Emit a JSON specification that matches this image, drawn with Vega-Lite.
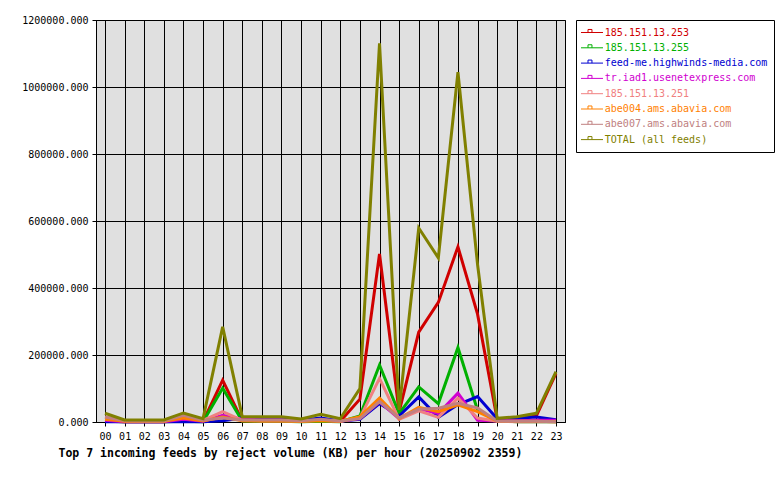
{
  "$schema": "https://vega.github.io/schema/vega-lite/v6.json",
  "width": 469,
  "height": 402,
  "autosize": {"type": "none"},
  "padding": {"left": 96, "top": 20, "right": 215, "bottom": 58},
  "background": "white",
  "config": {
    "view": {"fill": "#e0e0e0", "stroke": "black", "strokeWidth": 1},
    "font": "DejaVu Sans Mono"
  },
  "data": {
    "values": [
      {"h":"00","s":"185.151.13.253","v":3000},{"h":"01","s":"185.151.13.253","v":1000},{"h":"02","s":"185.151.13.253","v":1000},{"h":"03","s":"185.151.13.253","v":1000},{"h":"04","s":"185.151.13.253","v":5000},{"h":"05","s":"185.151.13.253","v":2000},{"h":"06","s":"185.151.13.253","v":125000},{"h":"07","s":"185.151.13.253","v":3000},{"h":"08","s":"185.151.13.253","v":2000},{"h":"09","s":"185.151.13.253","v":2000},{"h":"10","s":"185.151.13.253","v":2000},{"h":"11","s":"185.151.13.253","v":3000},{"h":"12","s":"185.151.13.253","v":2000},{"h":"13","s":"185.151.13.253","v":68000},{"h":"14","s":"185.151.13.253","v":502000},{"h":"15","s":"185.151.13.253","v":30000},{"h":"16","s":"185.151.13.253","v":268000},{"h":"17","s":"185.151.13.253","v":357000},{"h":"18","s":"185.151.13.253","v":523000},{"h":"19","s":"185.151.13.253","v":322000},{"h":"20","s":"185.151.13.253","v":8000},{"h":"21","s":"185.151.13.253","v":10000},{"h":"22","s":"185.151.13.253","v":18000},{"h":"23","s":"185.151.13.253","v":145000},
      {"h":"00","s":"185.151.13.255","v":2000},{"h":"01","s":"185.151.13.255","v":1000},{"h":"02","s":"185.151.13.255","v":1000},{"h":"03","s":"185.151.13.255","v":1000},{"h":"04","s":"185.151.13.255","v":2000},{"h":"05","s":"185.151.13.255","v":1000},{"h":"06","s":"185.151.13.255","v":101000},{"h":"07","s":"185.151.13.255","v":3000},{"h":"08","s":"185.151.13.255","v":2000},{"h":"09","s":"185.151.13.255","v":2000},{"h":"10","s":"185.151.13.255","v":1000},{"h":"11","s":"185.151.13.255","v":2000},{"h":"12","s":"185.151.13.255","v":1000},{"h":"13","s":"185.151.13.255","v":18000},{"h":"14","s":"185.151.13.255","v":170000},{"h":"15","s":"185.151.13.255","v":25000},{"h":"16","s":"185.151.13.255","v":105000},{"h":"17","s":"185.151.13.255","v":55000},{"h":"18","s":"185.151.13.255","v":222000},{"h":"19","s":"185.151.13.255","v":35000},{"h":"20","s":"185.151.13.255","v":3000},{"h":"21","s":"185.151.13.255","v":1000},{"h":"22","s":"185.151.13.255","v":1000},{"h":"23","s":"185.151.13.255","v":1000},
      {"h":"00","s":"feed-me.highwinds-media.com","v":1000},{"h":"01","s":"feed-me.highwinds-media.com","v":500},{"h":"02","s":"feed-me.highwinds-media.com","v":500},{"h":"03","s":"feed-me.highwinds-media.com","v":500},{"h":"04","s":"feed-me.highwinds-media.com","v":1000},{"h":"05","s":"feed-me.highwinds-media.com","v":500},{"h":"06","s":"feed-me.highwinds-media.com","v":4000},{"h":"07","s":"feed-me.highwinds-media.com","v":12000},{"h":"08","s":"feed-me.highwinds-media.com","v":8000},{"h":"09","s":"feed-me.highwinds-media.com","v":8000},{"h":"10","s":"feed-me.highwinds-media.com","v":5000},{"h":"11","s":"feed-me.highwinds-media.com","v":12000},{"h":"12","s":"feed-me.highwinds-media.com","v":3000},{"h":"13","s":"feed-me.highwinds-media.com","v":8000},{"h":"14","s":"feed-me.highwinds-media.com","v":55000},{"h":"15","s":"feed-me.highwinds-media.com","v":18000},{"h":"16","s":"feed-me.highwinds-media.com","v":75000},{"h":"17","s":"feed-me.highwinds-media.com","v":14000},{"h":"18","s":"feed-me.highwinds-media.com","v":52000},{"h":"19","s":"feed-me.highwinds-media.com","v":76000},{"h":"20","s":"feed-me.highwinds-media.com","v":10000},{"h":"21","s":"feed-me.highwinds-media.com","v":11000},{"h":"22","s":"feed-me.highwinds-media.com","v":15000},{"h":"23","s":"feed-me.highwinds-media.com","v":7000},
      {"h":"00","s":"tr.iad1.usenetexpress.com","v":5000},{"h":"01","s":"tr.iad1.usenetexpress.com","v":1000},{"h":"02","s":"tr.iad1.usenetexpress.com","v":1000},{"h":"03","s":"tr.iad1.usenetexpress.com","v":1000},{"h":"04","s":"tr.iad1.usenetexpress.com","v":8000},{"h":"05","s":"tr.iad1.usenetexpress.com","v":2000},{"h":"06","s":"tr.iad1.usenetexpress.com","v":20000},{"h":"07","s":"tr.iad1.usenetexpress.com","v":8000},{"h":"08","s":"tr.iad1.usenetexpress.com","v":6000},{"h":"09","s":"tr.iad1.usenetexpress.com","v":6000},{"h":"10","s":"tr.iad1.usenetexpress.com","v":3000},{"h":"11","s":"tr.iad1.usenetexpress.com","v":5000},{"h":"12","s":"tr.iad1.usenetexpress.com","v":2000},{"h":"13","s":"tr.iad1.usenetexpress.com","v":10000},{"h":"14","s":"tr.iad1.usenetexpress.com","v":60000},{"h":"15","s":"tr.iad1.usenetexpress.com","v":10000},{"h":"16","s":"tr.iad1.usenetexpress.com","v":40000},{"h":"17","s":"tr.iad1.usenetexpress.com","v":25000},{"h":"18","s":"tr.iad1.usenetexpress.com","v":86000},{"h":"19","s":"tr.iad1.usenetexpress.com","v":5000},{"h":"20","s":"tr.iad1.usenetexpress.com","v":3000},{"h":"21","s":"tr.iad1.usenetexpress.com","v":4000},{"h":"22","s":"tr.iad1.usenetexpress.com","v":5000},{"h":"23","s":"tr.iad1.usenetexpress.com","v":5000},
      {"h":"00","s":"185.151.13.251","v":15000},{"h":"01","s":"185.151.13.251","v":3000},{"h":"02","s":"185.151.13.251","v":2000},{"h":"03","s":"185.151.13.251","v":2000},{"h":"04","s":"185.151.13.251","v":18000},{"h":"05","s":"185.151.13.251","v":5000},{"h":"06","s":"185.151.13.251","v":31000},{"h":"07","s":"185.151.13.251","v":5000},{"h":"08","s":"185.151.13.251","v":3000},{"h":"09","s":"185.151.13.251","v":3000},{"h":"10","s":"185.151.13.251","v":2000},{"h":"11","s":"185.151.13.251","v":5000},{"h":"12","s":"185.151.13.251","v":2000},{"h":"13","s":"185.151.13.251","v":12000},{"h":"14","s":"185.151.13.251","v":130000},{"h":"15","s":"185.151.13.251","v":8000},{"h":"16","s":"185.151.13.251","v":33000},{"h":"17","s":"185.151.13.251","v":14000},{"h":"18","s":"185.151.13.251","v":71000},{"h":"19","s":"185.151.13.251","v":12000},{"h":"20","s":"185.151.13.251","v":2000},{"h":"21","s":"185.151.13.251","v":1000},{"h":"22","s":"185.151.13.251","v":1000},{"h":"23","s":"185.151.13.251","v":1000},
      {"h":"00","s":"abe004.ams.abavia.com","v":8000},{"h":"01","s":"abe004.ams.abavia.com","v":2000},{"h":"02","s":"abe004.ams.abavia.com","v":2000},{"h":"03","s":"abe004.ams.abavia.com","v":2000},{"h":"04","s":"abe004.ams.abavia.com","v":12000},{"h":"05","s":"abe004.ams.abavia.com","v":3000},{"h":"06","s":"abe004.ams.abavia.com","v":15000},{"h":"07","s":"abe004.ams.abavia.com","v":4000},{"h":"08","s":"abe004.ams.abavia.com","v":3000},{"h":"09","s":"abe004.ams.abavia.com","v":3000},{"h":"10","s":"abe004.ams.abavia.com","v":2000},{"h":"11","s":"abe004.ams.abavia.com","v":4000},{"h":"12","s":"abe004.ams.abavia.com","v":2000},{"h":"13","s":"abe004.ams.abavia.com","v":16000},{"h":"14","s":"abe004.ams.abavia.com","v":71000},{"h":"15","s":"abe004.ams.abavia.com","v":10000},{"h":"16","s":"abe004.ams.abavia.com","v":44000},{"h":"17","s":"abe004.ams.abavia.com","v":31000},{"h":"18","s":"abe004.ams.abavia.com","v":51000},{"h":"19","s":"abe004.ams.abavia.com","v":31000},{"h":"20","s":"abe004.ams.abavia.com","v":3000},{"h":"21","s":"abe004.ams.abavia.com","v":2000},{"h":"22","s":"abe004.ams.abavia.com","v":2000},{"h":"23","s":"abe004.ams.abavia.com","v":1000},
      {"h":"00","s":"abe007.ams.abavia.com","v":15000},{"h":"01","s":"abe007.ams.abavia.com","v":4000},{"h":"02","s":"abe007.ams.abavia.com","v":3000},{"h":"03","s":"abe007.ams.abavia.com","v":3000},{"h":"04","s":"abe007.ams.abavia.com","v":20000},{"h":"05","s":"abe007.ams.abavia.com","v":5000},{"h":"06","s":"abe007.ams.abavia.com","v":12000},{"h":"07","s":"abe007.ams.abavia.com","v":6000},{"h":"08","s":"abe007.ams.abavia.com","v":6000},{"h":"09","s":"abe007.ams.abavia.com","v":6000},{"h":"10","s":"abe007.ams.abavia.com","v":4000},{"h":"11","s":"abe007.ams.abavia.com","v":8000},{"h":"12","s":"abe007.ams.abavia.com","v":3000},{"h":"13","s":"abe007.ams.abavia.com","v":10000},{"h":"14","s":"abe007.ams.abavia.com","v":61000},{"h":"15","s":"abe007.ams.abavia.com","v":12000},{"h":"16","s":"abe007.ams.abavia.com","v":38000},{"h":"17","s":"abe007.ams.abavia.com","v":41000},{"h":"18","s":"abe007.ams.abavia.com","v":56000},{"h":"19","s":"abe007.ams.abavia.com","v":42000},{"h":"20","s":"abe007.ams.abavia.com","v":3000},{"h":"21","s":"abe007.ams.abavia.com","v":2000},{"h":"22","s":"abe007.ams.abavia.com","v":2000},{"h":"23","s":"abe007.ams.abavia.com","v":1000},
      {"h":"00","s":"TOTAL (all feeds)","v":26000},{"h":"01","s":"TOTAL (all feeds)","v":6000},{"h":"02","s":"TOTAL (all feeds)","v":6000},{"h":"03","s":"TOTAL (all feeds)","v":6000},{"h":"04","s":"TOTAL (all feeds)","v":27000},{"h":"05","s":"TOTAL (all feeds)","v":10000},{"h":"06","s":"TOTAL (all feeds)","v":284000},{"h":"07","s":"TOTAL (all feeds)","v":16000},{"h":"08","s":"TOTAL (all feeds)","v":16000},{"h":"09","s":"TOTAL (all feeds)","v":16000},{"h":"10","s":"TOTAL (all feeds)","v":9000},{"h":"11","s":"TOTAL (all feeds)","v":23000},{"h":"12","s":"TOTAL (all feeds)","v":10000},{"h":"13","s":"TOTAL (all feeds)","v":100000},{"h":"14","s":"TOTAL (all feeds)","v":1130000},{"h":"15","s":"TOTAL (all feeds)","v":36000},{"h":"16","s":"TOTAL (all feeds)","v":579000},{"h":"17","s":"TOTAL (all feeds)","v":490000},{"h":"18","s":"TOTAL (all feeds)","v":1044000},{"h":"19","s":"TOTAL (all feeds)","v":470000},{"h":"20","s":"TOTAL (all feeds)","v":11000},{"h":"21","s":"TOTAL (all feeds)","v":16000},{"h":"22","s":"TOTAL (all feeds)","v":26000},{"h":"23","s":"TOTAL (all feeds)","v":150000}
    ]
  },
  "mark": {"type": "line", "strokeWidth": 3},
  "encoding": {
    "x": {
      "field": "h",
      "type": "ordinal",
      "sort": null,
      "scale": {"type": "point", "padding": 0.46},
      "axis": {
        "title": "Top 7 incoming feeds by reject volume (KB) per hour (20250902 2359)",
        "titleFont": "DejaVu Sans Mono",
        "titleFontSize": 11.5,
        "titleFontWeight": "bold",
        "titleColor": "black",
        "titleX": -38,
        "titleY": 34,
        "titleAlign": "left",
        "titleAnchor": null,
        "titleBaseline": "alphabetic",
        "labelAngle": 0,
        "labelFont": "DejaVu Sans Mono",
        "labelFontSize": 10,
        "labelColor": "black",
        "labelPadding": 5,
        "tickColor": "black",
        "tickSize": 4,
        "domainColor": "black",
        "grid": true,
        "gridColor": "black",
        "gridOpacity": 1,
        "gridWidth": 1
      }
    },
    "y": {
      "field": "v",
      "type": "quantitative",
      "scale": {"domain": [0, 1200000], "nice": false},
      "axis": {
        "title": null,
        "values": [0, 200000, 400000, 600000, 800000, 1000000, 1200000],
        "format": ".3f",
        "labelFont": "DejaVu Sans Mono",
        "labelFontSize": 10,
        "labelColor": "black",
        "labelPadding": 4,
        "tickColor": "black",
        "tickSize": 4,
        "domainColor": "black",
        "grid": true,
        "gridColor": "black",
        "gridOpacity": 1,
        "gridWidth": 1
      }
    },
    "color": {
      "field": "s",
      "type": "nominal",
      "scale": {
        "domain": ["185.151.13.253", "185.151.13.255", "feed-me.highwinds-media.com", "tr.iad1.usenetexpress.com", "185.151.13.251", "abe004.ams.abavia.com", "abe007.ams.abavia.com", "TOTAL (all feeds)"],
        "range": ["#d00000", "#00b000", "#0000d0", "#d000d0", "#f08080", "#ff8000", "#c08080", "#808000"]
      },
      "legend": {
        "orient": "none",
        "legendX": 480,
        "legendY": 0,
        "title": null,
        "padding": 6.5,
        "strokeColor": "black",
        "fillColor": "white",
        "symbolType": "M-1.364,0H2.636M-0.09,0V-0.55H0.63V0",
        "symbolSize": 121,
        "symbolStrokeWidth": 1,
        "symbolFillColor": "transparent",
        "labelFont": "DejaVu Sans Mono",
        "labelFontSize": 10,
        "labelOffset": 10.3,
        "rowPadding": 4.3,
        "labelLimit": 300,
        "encode": {
          "labels": {"update": {"fill": {"scale": "color", "field": "value"}}}
        }
      }
    }
  }
}
